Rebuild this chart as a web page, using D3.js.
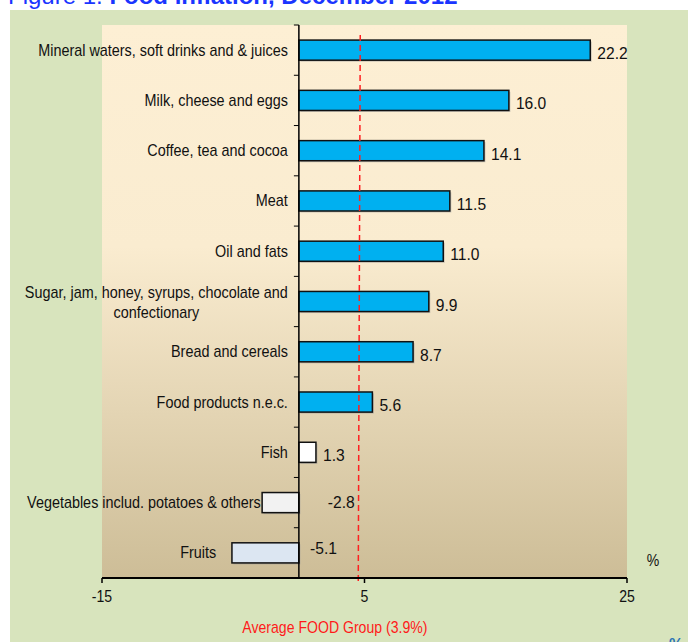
<!DOCTYPE html>
<html>
<head>
<meta charset="utf-8">
<style>
  body { margin: 0; background: #fff; }
  text { font-family: "Liberation Sans", Arial, sans-serif; fill: #111; }
</style>
</head>
<body>
<script src="https://d3js.org/d3.v7.min.js"></script>
<script>
// values (annual % change, December 2012)
var categories = [
  "Mineral waters, soft drinks and & juices",
  "Milk, cheese and eggs",
  "Coffee, tea and cocoa",
  "Meat",
  "Oil and fats",
  "Sugar, jam, honey, syrups, chocolate and|confectionary",
  "Bread and cereals",
  "Food products n.e.c.",
  "Fish",
  "Vegetables includ. potatoes & others",
  "Fruits"
];
var values = [22.2, 16.0, 14.1, 11.5, 11.0, 9.9, 8.7, 5.6, 1.3, -2.8, -5.1];
var barColors = ["#00b0f0", "#00b0f0", "#00b0f0", "#00b0f0", "#00b0f0", "#00b0f0",
                 "#00b0f0", "#00b0f0", "#ffffff", "#f2f2f2", "#dce6f2"];
var xTicks = [-15, 5, 25];
var avgLabel = "Average FOOD Group (3.9%)";
var avgLineAt = 4.6;   // where the dashed line is drawn in the original

var W = 688, H = 642;
var sx = 0.88;   // the original font is horizontally squeezed
var sxCat = 0.9;

var svg = d3.select("body").append("svg")
    .attr("width", W)
    .attr("height", H);

var defs = svg.append("defs");
var grad = defs.append("linearGradient")
    .attr("id", "plotbg")
    .attr("x1", 0).attr("y1", 0).attr("x2", 0).attr("y2", 1);
grad.append("stop").attr("offset", "0").attr("stop-color", "#fdefd4");
grad.append("stop").attr("offset", "0.4").attr("stop-color", "#faecd0");
grad.append("stop").attr("offset", "1").attr("stop-color", "#cdbd97");

// title, cut off at the top of the picture
var title = svg.append("text")
    .attr("x", 8).attr("y", 4)
    .style("font-size", "24px")
    .style("fill", "#1a35ff");
title.append("tspan").style("fill", "#1a35ff").text("Figure 1: ");
title.append("tspan").style("fill", "#1a35ff").style("font-weight", "bold").text("Food inflation, December 2012");

// outer green frame
svg.append("rect")
    .attr("x", 10).attr("y", 10)
    .attr("width", W).attr("height", H)
    .attr("fill", "#d8e4bd");

var plot = { left: 102, right: 627, top: 25, bottom: 578 };

var x = d3.scaleLinear()
    .domain([-15, 25])
    .range([plot.left, plot.right]);

var y = d3.scaleBand()
    .domain(categories)
    .range([plot.top, plot.bottom])
    .paddingInner(0.6)
    .paddingOuter(0.3);

svg.append("rect")
    .attr("x", plot.left).attr("y", plot.top)
    .attr("width", plot.right - plot.left)
    .attr("height", plot.bottom - plot.top)
    .attr("fill", "url(#plotbg)");

function squeezed(sel, px, py, k) {
  return sel.attr("transform", "translate(" + px + "," + py + ") scale(" + (k || sx) + ",1)");
}

// bars
var data = categories.map(function(c, i) { return { cat: c, v: values[i], color: barColors[i] }; });

var bars = svg.append("g");
bars.selectAll("rect.shadow")
    .data(data)
    .enter().append("rect")
      .attr("class", "shadow")
      .attr("x", function(d) { return Math.min(x(0), x(d.v)) + 1.5; })
      .attr("y", function(d) { return y(d.cat) + 1.5; })
      .attr("width", function(d) { return Math.abs(x(d.v) - x(0)); })
      .attr("height", y.bandwidth())
      .attr("fill", "#9a9a9a")
      .attr("opacity", 0.5);
bars.selectAll("rect.bar")
    .data(data)
    .enter().append("rect")
      .attr("class", "bar")
      .attr("x", function(d) { return Math.min(x(0), x(d.v)); })
      .attr("y", function(d) { return y(d.cat); })
      .attr("width", function(d) { return Math.abs(x(d.v) - x(0)); })
      .attr("height", y.bandwidth())
      .attr("fill", function(d) { return d.color; })
      .attr("stroke", "#111")
      .attr("stroke-width", 1.5);

// category axis along zero
svg.append("line")
    .attr("x1", x(0)).attr("x2", x(0))
    .attr("y1", plot.top).attr("y2", plot.bottom)
    .attr("stroke", "#000").attr("stroke-width", 1.5);
var bounds = categories.map(function(c) { return y(c) - y.step() * 0.3; });
svg.selectAll("line.ctick")
    .data(bounds)
    .enter().append("line")
      .attr("class", "ctick")
      .attr("x1", x(0) - 5).attr("x2", x(0))
      .attr("y1", function(d) { return d; })
      .attr("y2", function(d) { return d; })
      .attr("stroke", "#000").attr("stroke-width", 1);

// category labels (negative bars push their label further left)
var labelEndAt = { "Vegetables includ. potatoes & others": -2.9, "Fruits": -6.3 };
data.forEach(function(d) {
  var lines = d.cat.split("|");
  var cy = y(d.cat) + y.bandwidth() / 2;
  var endX = d.cat in labelEndAt ? x(labelEndAt[d.cat]) : x(0) - 11;
  if (lines.length === 1) {
    squeezed(svg.append("text"), endX, cy + 5.5, sxCat)
        .attr("text-anchor", "end")
        .style("font-size", "16px")
        .text(lines[0]);
  } else {
    var t1 = squeezed(svg.append("text"), endX, cy - 4, sxCat)
        .attr("text-anchor", "end")
        .style("font-size", "16px")
        .text(lines[0]);
    var w1 = t1.node().getComputedTextLength() * sxCat;
    squeezed(svg.append("text"), endX - w1 / 2, cy + 16, sxCat)
        .attr("text-anchor", "middle")
        .style("font-size", "16px")
        .text(lines[1]);
  }
});

// value labels
var negValueAt = { "-2.8": 2.2, "-5.1": 0.85 };
data.forEach(function(d) {
  var cy = y(d.cat) + y.bandwidth() / 2;
  var lbl = d.v.toFixed(1);
  var px = d.v >= 0 ? x(d.v) + 7 : x(negValueAt[lbl]);
  var py = d.v >= 0 ? cy + 9 : cy + 5 - (d.v < -5 ? 4 : 0);
  squeezed(svg.append("text"), px, py, 0.92)
      .style("font-size", "17px")
      .text(lbl);
});

// average dashed line
svg.append("line")
    .attr("x1", x(avgLineAt) + 1).attr("x2", x(avgLineAt) - 1)
    .attr("y1", plot.top + 10).attr("y2", plot.bottom + 7)
    .attr("stroke", "#ff2020")
    .attr("stroke-width", 1.5)
    .attr("stroke-dasharray", "6,4");

// value axis
var xAxis = svg.append("g")
    .attr("transform", "translate(0," + plot.bottom + ")");
xAxis.append("line")
    .attr("x1", plot.left).attr("x2", plot.right)
    .attr("y1", 0).attr("y2", 0)
    .attr("stroke", "#000").attr("stroke-width", 2);
xAxis.selectAll("line.xtick")
    .data(xTicks)
    .enter().append("line")
      .attr("class", "xtick")
      .attr("x1", function(d) { return x(d); })
      .attr("x2", function(d) { return x(d); })
      .attr("y1", 0).attr("y2", 5)
      .attr("stroke", "#000").attr("stroke-width", 1.5);
xTicks.forEach(function(d) {
  squeezed(xAxis.append("text"), x(d), 24)
      .attr("text-anchor", "middle")
      .style("font-size", "16px")
      .text(d);
});

squeezed(svg.append("text"), 653, 566)
    .attr("text-anchor", "middle")
    .style("font-size", "16px")
    .text("%");

squeezed(svg.append("text"), x(0) + 36, 633)
    .attr("text-anchor", "middle")
    .style("font-size", "16px")
    .style("fill", "#ff1a1a")
    .text(avgLabel);

svg.append("text")
    .attr("x", 669).attr("y", 650)
    .style("font-size", "16px")
    .style("font-weight", "bold")
    .style("fill", "#2e75b6")
    .text("%");
</script>
</body>
</html>
